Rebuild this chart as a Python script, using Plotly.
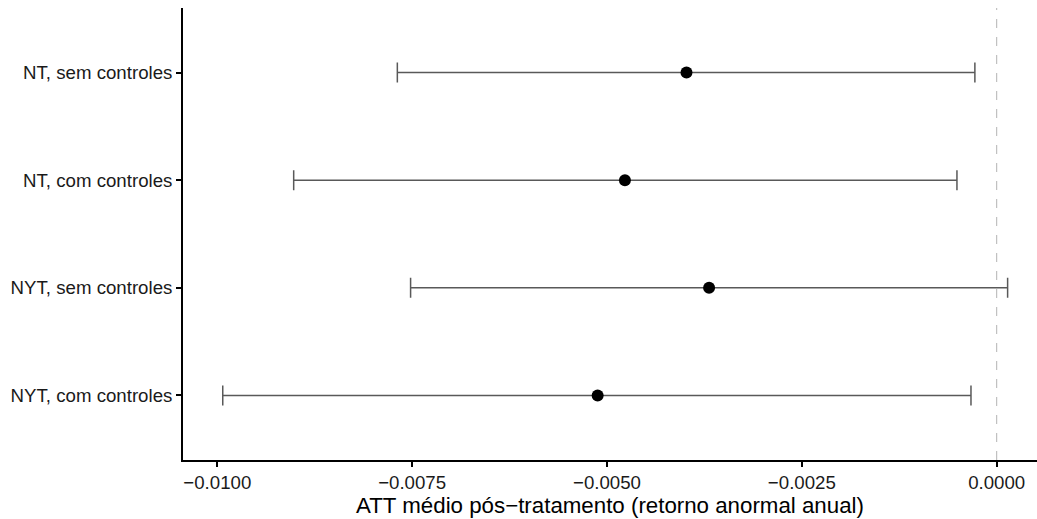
import plotly.graph_objects as go

labels = ["NYT, com controles", "NYT, sem controles", "NT, com controles", "NT, sem controles"]
estimate = [-0.00512, -0.00369, -0.00477, -0.00398]
ci_low = [-0.00993, -0.00752, -0.00902, -0.00769]
ci_high = [-0.00033, 0.00014, -0.00051, -0.00028]
x_ticks = [-0.0100, -0.0075, -0.0050, -0.0025, 0.0000]
x_tick_text = ["\u22120.0100", "\u22120.0075", "\u22120.0050", "\u22120.0025", "0.0000"]

ypos = list(range(1, len(labels) + 1))
err_plus = [h - e for h, e in zip(ci_high, estimate)]
err_minus = [e - l for e, l in zip(estimate, ci_low)]

fig = go.Figure()
fig.add_trace(go.Scatter(
    x=estimate, y=ypos, mode="markers",
    marker=dict(color="black", size=12),
    error_x=dict(type="data", symmetric=False, array=err_plus, arrayminus=err_minus,
                 color="#595959", thickness=1.5, width=10),
    showlegend=False, hoverinfo="skip",
))

fig.add_shape(type="line", x0=0, x1=0, y0=0, y1=1, xref="x", yref="paper",
              line=dict(color="#b3b3b3", width=1, dash="dash"), layer="below")

font = "Liberation Sans, Arial, sans-serif"
fig.update_layout(
    width=1037, height=519,
    margin=dict(l=183, r=0, t=8, b=59),
    paper_bgcolor="white", plot_bgcolor="white",
    font=dict(family=font, color="black"),
    xaxis=dict(
        range=[-0.01044, 0.000517],
        tickvals=x_ticks, ticktext=x_tick_text,
        tickfont=dict(size=18.67, color="#1a1a1a"),
        ticks="outside", ticklen=5, tickwidth=1.5, tickcolor="black",
        showline=True, linecolor="black", linewidth=1.8,
        showgrid=False, zeroline=False,
        title=dict(text="ATT médio pós\u2212tratamento (retorno anormal anual)",
                   font=dict(size=22.3, color="black"), standoff=0),
    ),
    yaxis=dict(
        range=[0.4, 4.6],
        tickvals=ypos, ticktext=labels,
        tickfont=dict(size=18.67, color="#1a1a1a"),
        ticks="outside", ticklen=5, tickwidth=1.5, tickcolor="black",
        showline=True, linecolor="black", linewidth=1.8,
        showgrid=False, zeroline=False,
    ),
)

fig.write_html("out.html")
